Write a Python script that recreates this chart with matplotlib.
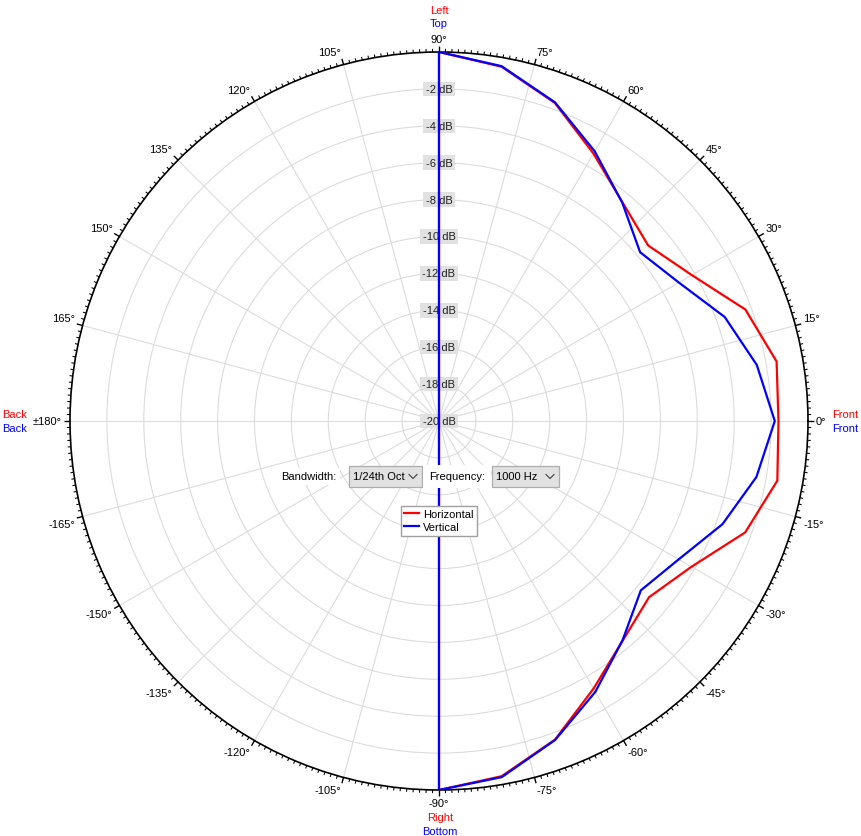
import numpy as np
import matplotlib
matplotlib.use("Agg")
import matplotlib.pyplot as plt
from matplotlib.patches import Rectangle
from matplotlib.lines import Line2D

plt.rcParams['font.family'] = ['Liberation Sans', 'DejaVu Sans']

# ---- data -------------------------------------------------------------
# Measurement angles (deg): front half every 10 deg, back half sits at the -20 dB floor
angles_deg = [-90, -80, -70, -60, -50, -40, -30, -20, -10, 0,
              10, 20, 30, 40, 50, 60, 70, 80, 90,
              100, 180, 260, 270]
horizontal_db = [0.0, -0.45, -1.62, -3.25, -4.49, -5.14, -4.2, -2.34, -1.38, -1.6,
                 -1.42, -2.33, -4.18, -5.2, -4.53, -3.26, -1.65, -0.5, 0.0,
                 -20.0, -20.0, -20.0, 0.0]
vertical_db = [0.0, -0.4, -1.6, -3.05, -4.51, -5.72, -5.0, -3.65, -2.53, -1.8,
               -2.51, -3.52, -4.99, -5.77, -4.55, -3.12, -1.62, -0.47, 0.0,
               -20.0, -20.0, -20.0, 0.0]
series_names = ["Horizontal", "Vertical"]
series_colors = ["#ff0000", "#0000ff"]
db_levels = [-2, -4, -6, -8, -10, -12, -14, -16, -18, -20]
theta_label_angles = list(range(-165, 181, 15))

W, H = 862, 837


def fx(x):
    return x / W


def fy(y):
    return 1 - y / H


fig = plt.figure(figsize=(W / 100, H / 100), dpi=100)
fig.patch.set_facecolor("white")

cx, cy, R = 439, 422, 369
px_per_db = R / 20.0
ax = fig.add_axes([fx(cx - R), fy(cy + R), 2 * R / W, 2 * R / H], projection="polar")
ax.set_facecolor("white")
ax.set_ylim(-20, 0)
ax.set_yticks(list(range(-18, 0, 2)))
ax.set_yticklabels([])
ax.set_xticks(np.deg2rad(np.arange(0, 360, 15)))
ax.set_xticklabels([])
ax.grid(True, color="#dcdcdc", linewidth=0.8)
ax.tick_params(length=0)
ax.spines["polar"].set_color("black")
ax.spines["polar"].set_linewidth(1.2)

# rim tick marks (outward): 1 deg minor, 15 deg major
minor_t = np.deg2rad([d for d in range(360) if d % 15])
major_t = np.deg2rad(np.arange(0, 360, 15))
ax.vlines(minor_t, 0, 3.2 / px_per_db, colors="black", linewidth=0.75, clip_on=False, zorder=5)
ax.vlines(major_t, 0, 6.0 / px_per_db, colors="black", linewidth=1.0, clip_on=False, zorder=5)
ax.set_ylim(-20, 0)

# response curves
theta = np.deg2rad(angles_deg)
lines = []
for vals, name, col in zip([horizontal_db, vertical_db], series_names, series_colors):
    ln, = ax.plot(theta, vals, color=col, linewidth=1.6, label=name, zorder=4)
    lines.append(ln)

# dB ring labels on the vertical axis
for lvl in db_levels:
    ax.text(np.pi / 2, lvl, f"{lvl} dB", ha="center", va="center", fontsize=8,
            color="#202020", zorder=3,
            bbox=dict(boxstyle="square,pad=0.2", fc="#e1e1e1", ec="none"))

# angle labels around the rim
off = 8
for a in theta_label_angles:
    t = np.deg2rad(a)
    c, s = np.cos(t), np.sin(t)
    ha = "left" if c > 0.01 else ("right" if c < -0.01 else "center")
    va = "bottom" if s > 0.01 else ("top" if s < -0.01 else "center")
    txt = "\u00b1180\u00b0" if a == 180 else f"{a}\u00b0"
    ax.annotate(txt, xy=(t, 0), xycoords="data", xytext=(off * c, off * s),
                textcoords="offset pixels", ha=ha, va=va, fontsize=8,
                annotation_clip=False)

# orientation names
fs = 8
fig.text(fx(439), fy(11), "Left", color="#ff0000", ha="center", va="center", fontsize=fs)
fig.text(fx(439), fy(24), "Top", color="#0000ff", ha="center", va="center", fontsize=fs)
fig.text(fx(440), fy(818), "Right", color="#ff0000", ha="center", va="center", fontsize=fs)
fig.text(fx(440), fy(832), "Bottom", color="#0000ff", ha="center", va="center", fontsize=fs)
fig.text(fx(2), fy(415), "Back", color="#ff0000", ha="left", va="center", fontsize=fs)
fig.text(fx(2), fy(429), "Back", color="#0000ff", ha="left", va="center", fontsize=fs)
fig.text(fx(832), fy(415), "Front", color="#ff0000", ha="left", va="center", fontsize=fs)
fig.text(fx(832), fy(429), "Front", color="#0000ff", ha="left", va="center", fontsize=fs)

# control strip
fig.text(fx(281), fy(477.5), "Bandwidth:", ha="left", va="center", fontsize=8,
         bbox=dict(boxstyle="square,pad=0.3", fc="white", ec="none"))
fig.text(fx(429), fy(477.5), "Frequency:", ha="left", va="center", fontsize=8,
         bbox=dict(boxstyle="square,pad=0.55", fc="white", ec="none"))


def combo(x0, x1, label):
    y0, y1 = 467, 488
    fig.patches.append(Rectangle((fx(x0), fy(y1)), fx(x1) - fx(x0), fy(y0) - fy(y1),
                                 transform=fig.transFigure, fc="#e1e1e1", ec="#adadad",
                                 lw=0.9, zorder=2))
    fig.text(fx(x0 + 4), fy(477.5), label, ha="left", va="center", fontsize=8, zorder=3)
    ax_ = x1 - 9
    fig.lines.append(Line2D([fx(ax_ - 4), fx(ax_), fx(ax_ + 4)],
                            [fy(475.5), fy(479.5), fy(475.5)],
                            transform=fig.transFigure, color="#404040", lw=0.8, zorder=3))


combo(349, 422, "1/24th Oct")
combo(492, 559, "1000 Hz")

leg = ax.legend(handles=lines, loc="upper left",
                bbox_to_anchor=(fx(401), fy(506.5)), bbox_transform=fig.transFigure,
                fontsize=8, frameon=True, fancybox=False, framealpha=1,
                edgecolor="#a0a0a0", borderpad=0.3, borderaxespad=0,
                handlelength=1.3, handletextpad=0.4, labelspacing=0.3)
leg.get_frame().set_linewidth(1.0)
leg.set_zorder(6)

fig.savefig("out.png", dpi=100, facecolor="white")
